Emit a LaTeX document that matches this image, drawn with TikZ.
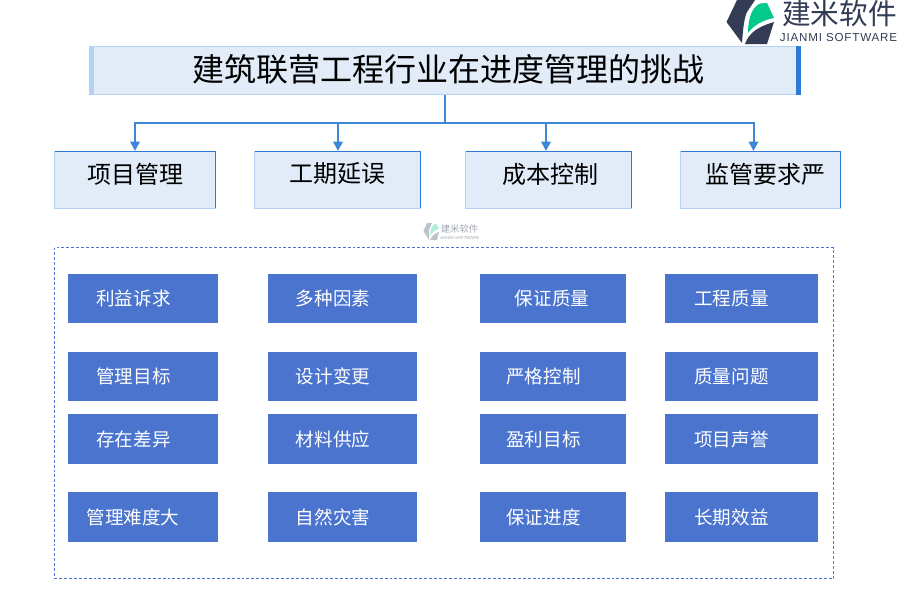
\documentclass[tikz,border=0pt]{standalone}
\usepackage{fontspec}
\setmainfont{Liberation Sans}
\newfontfamily\cjk{Noto Sans CJK SC}
\newfontfamily\latinwide[LetterSpace=7]{Liberation Sans}
\usetikzlibrary{arrows.meta}
\definecolor{paleblue}{HTML}{E1ECF8}
\definecolor{edgeblue}{HTML}{2E7BD6}
\definecolor{linkblue}{HTML}{3F86D9}
\definecolor{softedge}{HTML}{B4D3F4}
\definecolor{tileblue}{HTML}{4A74CE}
\definecolor{logoink}{HTML}{333C55}
\definecolor{logogreen}{HTML}{04C98C}
\tikzset{
  x=0.75pt, y=-0.75pt,
  px/.style={font=\cjk\fontsize{#1}{#1}\selectfont},
  headbox/.style={fill=paleblue, draw=softedge, line width=0.9pt},
  headlabel/.style={px=18pt, text=black, inner sep=0pt},
  tile/.style={fill=tileblue, draw=none},
  tilelabel/.style={px=13.9pt, text=white, inner sep=0pt},
  feed/.style={draw=linkblue, line width=1.5pt},
  drop/.style={feed, -{Triangle[length=7pt,width=7pt]}},
}
\begin{document}
\begin{tikzpicture}
\useasboundingbox (0,0) rectangle (900,600);

% logo
\fill[logoink] (737,0) -- (755,0) -- (747,12) .. controls (744,18) and (743,30) .. (742,43) -- (726.5,22) -- cycle;
\fill[logoink] (745,44) .. controls (749,32) and (760,26) .. (774,22) -- (767,44) -- cycle;
\fill[logogreen] (748,33) .. controls (748,16) and (753,7) .. (760,3.5) -- (767,3) -- (774,18) .. controls (763,20) and (754,25) .. (748,33) -- cycle;
\node[px=21.5pt, text=logoink, inner sep=0pt] (brand) at (839.5,14) {建米软件};
\node[font=\latinwide\fontsize{8.7pt}{9pt}\selectfont, text=logoink, inner sep=0pt] (brandsub) at (838.5,38) {JIANMI SOFTWARE};

% title banner
\node[headbox, minimum width=533pt, minimum height=36pt, inner sep=0pt] (title) at (444.5,70.5) {};
\fill[softedge] (89,47) rectangle (94,94);
\fill[edgeblue] (796,46) rectangle (801,95);
\node[px=24pt, inner sep=0pt] (titletext) at (448.5,69) {建筑联营工程行业在进度管理的挑战};

% four category boxes, darker along the top and right
\node[headbox, minimum width=120.5pt, minimum height=42.5pt, inner sep=0pt] (a) at (135,180) {};
\node[headbox, minimum width=124.25pt, minimum height=42.5pt, inner sep=0pt] (b) at (337.5,180) {};
\node[headbox, minimum width=124.25pt, minimum height=42.5pt, inner sep=0pt] (c) at (548.5,180) {};
\node[headbox, minimum width=119.75pt, minimum height=42.5pt, inner sep=0pt] (d) at (760.5,180) {};
\foreach \n in {a,b,c,d}{
  \draw[edgeblue, line width=0.8pt] ([xshift=0.4pt,yshift=-0.45pt]\n.north west) -- ([xshift=-0.45pt,yshift=-0.45pt]\n.north east) -- ([xshift=-0.45pt,yshift=0.4pt]\n.south east);
}
\node[headlabel] at (135,174) {项目管理};
\node[headlabel] at (337.5,174) {工期延误};
\node[headlabel] at (550,174) {成本控制};
\node[headlabel] at (765,174) {监管要求严};

% connectors from the banner down to the category boxes
\coordinate (bus) at (444.5,122.5);
\coordinate (ta) at (135,151);
\coordinate (tb) at (338,151);
\coordinate (tc) at (546,151);
\coordinate (td) at (753.5,151);
\draw[feed] (title.south) -- (bus);
\draw[drop] (bus) -| (ta);
\draw[drop] (bus) -| (tb);
\draw[drop] (bus) -| (tc);
\draw[drop] (bus) -| (td);

% faint logo between the rows
\begin{scope}[opacity=0.45]
  \fill[logoink!70] (427,223) -- (432,223) -- (429,230) -- (429,240) -- (423.5,231) -- cycle;
  \fill[logogreen!70] (430,236) .. controls (430,229) and (432,225) .. (436,223.5) -- (439,229) .. controls (435,230) and (432,232) .. (430,236) -- cycle;
  \fill[logoink!70] (430,240) .. controls (432,236) and (435,233) .. (439,232) -- (437,240) -- cycle;
  \node[px=7pt, text=logoink, inner sep=0pt] (mark) at (459.5,229) {建米软件};
  \node[font=\fontsize{3.2pt}{4pt}\selectfont, text=logoink, inner sep=0pt] (marksub) at (459.5,238) {JIANMI SOFTWARE};
\end{scope}

% dashed frame around the tiles
\draw[tileblue, dash pattern=on 2.2pt off 1.5pt, line width=0.7pt] (54.5,247.5) rectangle (833.5,578.5);

% tile grid
\foreach \xa/\xb/\ya/\yb/\tx/\ty/\lab in {
  68/218/274/323/133.5/298/利益诉求,
  268/417/274/323/333/298/多种因素,
  480/626/274/323/552/298/保证质量,
  665/818/274/323/731.5/298/工程质量,
  68/218/352/401/133.5/376/管理目标,
  268/417/352/401/333/376/设计变更,
  480/626/352/401/543.5/376/严格控制,
  665/818/352/401/731.5/376/质量问题,
  68/218/414/464/133.5/439/存在差异,
  268/417/414/464/333/439/材料供应,
  480/626/414/464/543.5/439/盈利目标,
  665/818/414/464/731.5/439/项目声誉,
  68/218/492/542/133/517/管理难度大,
  268/417/492/542/333/517/自然灾害,
  480/626/492/542/543.5/517/保证进度,
  665/818/492/542/731.5/517/长期效益}{
  \fill[tile] (\xa,\ya) rectangle (\xb,\yb);
  \node[tilelabel] at (\tx,\ty) {\lab};
}
\end{tikzpicture}
\end{document}
